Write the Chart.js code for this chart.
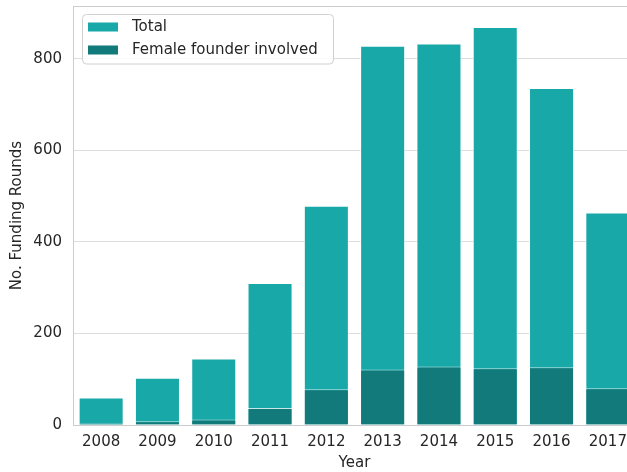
<!DOCTYPE html>
<html>
<head>
<meta charset="utf-8">
<script src="https://cdn.jsdelivr.net/npm/chart.js@4"></script>
<style>
    html, body { margin: 0; padding: 0; overflow: hidden; background: #fff; }
    #wrap { width: 640px; height: 472px; }
</style>
</head>
<body>
<div id="wrap"><canvas id="fundingChart"></canvas></div>
<script>
const years = ['2008', '2009', '2010', '2011', '2012', '2013', '2014', '2015', '2016', '2017'];
const totalRounds = [60, 103, 145, 310, 479, 828, 833, 869, 736, 464];
const femaleRounds = [4, 8, 12, 37, 78, 121, 128, 124, 126, 80];
const yTicks = [0, 200, 400, 600, 800];

const totalColor = '#18a8a8';
const femaleColor = '#127a7a';
const textColor = '#262626';

Chart.defaults.font.family = "'DejaVu Sans', sans-serif";
Chart.defaults.font.size = 15;
Chart.defaults.color = textColor;

// top spine + legend box inside the plot (matplotlib "upper left")
const boxLegend = {
    id: 'boxLegend',
    beforeDatasetsDraw(chart) {
        const a = chart.chartArea;
        const c = chart.ctx;
        c.save();
        c.strokeStyle = '#cccccc';
        c.lineWidth = 1;
        c.beginPath();
        c.moveTo(a.left, a.top + 0.5);
        c.lineTo(a.right, a.top + 0.5);
        c.stroke();
        c.restore();
    },
    afterDatasetsDraw(chart) {
        const c = chart.ctx;
        const items = [
            { label: chart.data.datasets[1].label, color: chart.data.datasets[1].backgroundColor },
            { label: chart.data.datasets[0].label, color: chart.data.datasets[0].backgroundColor }
        ];
        c.save();
        c.beginPath();
        c.roundRect(82.5, 14.5, 251, 49.5, 4);
        c.fillStyle = 'rgba(255,255,255,0.85)';
        c.fill();
        c.strokeStyle = '#d0d0d0';
        c.lineWidth = 1;
        c.stroke();
        c.font = "15px 'DejaVu Sans'";
        c.textBaseline = 'middle';
        items.forEach((it, i) => {
            const y = 27 + i * 23;
            c.fillStyle = it.color;
            c.fillRect(88, y - 4.5, 30, 9);
            c.fillStyle = textColor;
            c.fillText(it.label, 132, y + 0.5);
        });
        c.restore();
    }
};

const ctx = document.getElementById('fundingChart').getContext('2d');

new Chart(ctx, {
    type: 'bar',
    data: {
        labels: years,
        datasets: [
            {
                // first dataset is drawn on top
                label: 'Female founder involved',
                data: femaleRounds,
                backgroundColor: femaleColor,
                borderColor: 'rgba(255,255,255,0.75)',
                borderWidth: 1,
                barPercentage: 0.8,
                categoryPercentage: 1
            },
            {
                label: 'Total',
                data: totalRounds,
                backgroundColor: totalColor,
                borderColor: 'rgba(255,255,255,0.75)',
                borderWidth: 1,
                barPercentage: 0.8,
                categoryPercentage: 1
            }
        ]
    },
    options: {
        responsive: true,
        maintainAspectRatio: false,
        animation: false,
        layout: { padding: { top: 6, right: 4, left: 0, bottom: 0 } },
        plugins: {
            legend: { display: false },
            tooltip: { enabled: false }
        },
        scales: {
            x: {
                stacked: true,
                grid: { display: false, drawTicks: false },
                border: { color: '#cccccc', width: 1 },
                ticks: { color: textColor, padding: 8, maxRotation: 0 },
                title: { display: true, text: 'Year', color: textColor, padding: { top: 0, bottom: 0 } },
                afterFit: (scale) => {
                    scale.height = 47;
                    scale.paddingLeft = 0;
                    scale.paddingRight = 0;
                }
            },
            y: {
                stacked: false,
                min: 0,
                max: 915,
                afterBuildTicks: (scale) => { scale.ticks = yTicks.map(v => ({ value: v })); },
                grid: { color: '#dddddd', drawTicks: false },
                border: { color: '#cccccc', width: 1 },
                ticks: { color: textColor, padding: 11 },
                title: { display: true, text: 'No. Funding Rounds', color: textColor, padding: { top: 8, bottom: 0 } },
                afterFit: (scale) => {
                    scale.width = 73;
                    scale.paddingTop = 0;
                    scale.paddingBottom = 0;
                }
            }
        }
    },
    plugins: [boxLegend]
});
</script>
</body>
</html>
